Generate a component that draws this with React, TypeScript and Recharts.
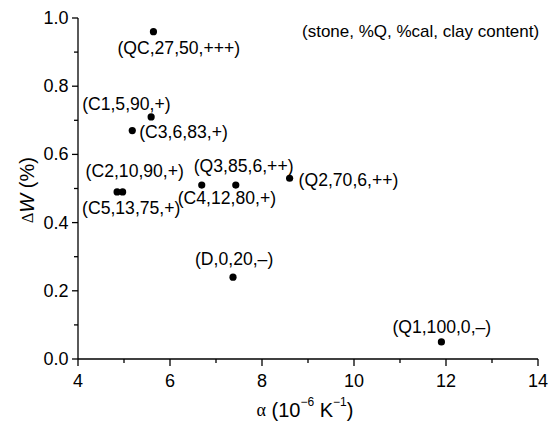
import { ScatterChart, Scatter, XAxis, YAxis } from 'recharts';

// stone labels, thermal expansion alpha (10^-6 K^-1) and ΔW (%)
const stones = ['QC', 'C1', 'C3', 'C2', 'C5', 'C4', 'Q3', 'Q2', 'D', 'Q1'];
const alpha = [5.64, 5.59, 5.18, 4.97, 4.85, 6.69, 7.43, 8.6, 7.37, 11.9];
const deltaW = [0.96, 0.71, 0.67, 0.49, 0.49, 0.51, 0.51, 0.53, 0.24, 0.05];
const pointLabels = [
  '(QC,27,50,+++)',
  '(C1,5,90,+)',
  '(C3,6,83,+)',
  '(C2,10,90,+)',
  '(C5,13,75,+)',
  '(C4,12,80,+)',
  '(Q3,85,6,++)',
  '(Q2,70,6,++)',
  '(D,0,20,\u2013)',
  '(Q1,100,0,\u2013)',
];

const xTicks = [4, 5, 6, 7, 8, 9, 10, 11, 12, 13, 14];
const yTicks = [0, 0.1, 0.2, 0.3, 0.4, 0.5, 0.6, 0.7, 0.8, 0.9, 1.0];

// where each label sits relative to its dot (text start, vertical centre)
const labelOffset: Record<string, [number, number]> = {
  QC: [-36, 16],
  C1: [-69, -13],
  C3: [7, 1],
  C2: [-37, -21],
  C5: [-35, 16],
  C4: [-24, 13],
  Q3: [-42, -19],
  Q2: [9, 2],
  D: [-38, -18],
  Q1: [-49, -15],
};

const data = stones.map((s, i) => ({ name: s, x: alpha[i], y: deltaW[i], label: pointLabels[i] }));

const FONT = 'Arial, "Liberation Sans", sans-serif';

const isMajor = (v: number, step: number) => Math.abs(v / step - Math.round(v / step)) < 1e-6;

function XTick({ x, y, payload }: any) {
  const major = isMajor(payload.value, 2);
  return (
    <g>
      <line x1={x} x2={x} y1={y} y2={y + (major ? 7 : 4)} stroke="#000" strokeWidth={1.3} />
      {major && (
        <text x={x} y={y + 22} textAnchor="middle" dominantBaseline="central" fontSize={18} fontFamily={FONT} fill="#000">
          {payload.value}
        </text>
      )}
    </g>
  );
}

function YTick({ x, y, payload }: any) {
  const major = isMajor(payload.value, 0.2);
  return (
    <g>
      <line x1={x} x2={x - (major ? 6 : 4)} y1={y} y2={y} stroke="#000" strokeWidth={1.3} />
      {major && (
        <text x={x - 9.5} y={y} textAnchor="end" dominantBaseline="central" fontSize={18} fontFamily={FONT} fill="#000">
          {payload.value.toFixed(1)}
        </text>
      )}
    </g>
  );
}

function Dot({ cx, cy, payload }: any) {
  const [dx, dy] = labelOffset[payload.name] || [6, 0];
  return (
    <g>
      <circle cx={cx} cy={cy} r={3.6} fill="#000" />
      <text x={cx + dx} y={cy + dy} dominantBaseline="central" fontSize={17.6} fontFamily={FONT} fill="#000">
        {payload.label}
      </text>
    </g>
  );
}

function XTitle({ viewBox }: any) {
  const cx = viewBox.x + viewBox.width / 2 - 3;
  return (
    <text x={cx} y={viewBox.y + 51} textAnchor="middle" dominantBaseline="central" fontFamily={FONT} fontSize={20} fill="#000">
      <tspan fontFamily='"Liberation Serif", "DejaVu Serif", serif' fontSize={18}>α</tspan>
      <tspan> (10</tspan>
      <tspan fontSize={12} dy={-8}>−6</tspan>
      <tspan dy={8}> K</tspan>
      <tspan fontSize={12} dy={-8}>−1</tspan>
      <tspan dy={8}>)</tspan>
    </text>
  );
}

function YTitle() {
  return (
    <text
      x={27}
      y={190}
      transform="rotate(-90 27 190)"
      textAnchor="middle"
      dominantBaseline="central"
      fontFamily={FONT}
      fontSize={20}
      fill="#000"
    >
      <tspan fontFamily='"Liberation Serif", "DejaVu Serif", serif' fontSize={16}>Δ</tspan>
      <tspan fontStyle="italic">W</tspan>
      <tspan> (%)</tspan>
    </text>
  );
}

export default function App() {
  return (
    <div style={{ position: 'absolute', left: 0, top: 0, width: 550, height: 426, background: '#fff' }}>
      <ScatterChart width={550} height={426} margin={{ top: 18, right: 12, bottom: 0, left: 0 }}>
        <XAxis
          type="number"
          dataKey="x"
          domain={[4, 14]}
          ticks={xTicks}
          interval={0}
          height={67}
          tickSize={0}
          tickMargin={0}
          tickLine={false}
          axisLine={{ stroke: '#000', strokeWidth: 1.3 }}
          tick={<XTick />}
          label={{ content: XTitle } as any}
        />
        <YAxis
          type="number"
          dataKey="y"
          domain={[0, 1]}
          ticks={yTicks}
          interval={0}
          width={78}
          tickSize={0}
          tickMargin={0}
          tickLine={false}
          axisLine={{ stroke: '#000', strokeWidth: 1.3 }}
          tick={<YTick />}
          label={{ content: YTitle } as any}
        />
        <Scatter data={data} shape={<Dot />} isAnimationActive={false} />
      </ScatterChart>
      <div
        style={{
          position: 'absolute',
          left: 302,
          top: 22,
          fontFamily: FONT,
          fontSize: 17,
          lineHeight: '20px',
          whiteSpace: 'nowrap',
          color: '#000',
        }}
      >
        (stone, %Q, %cal, clay content)
      </div>
    </div>
  );
}
